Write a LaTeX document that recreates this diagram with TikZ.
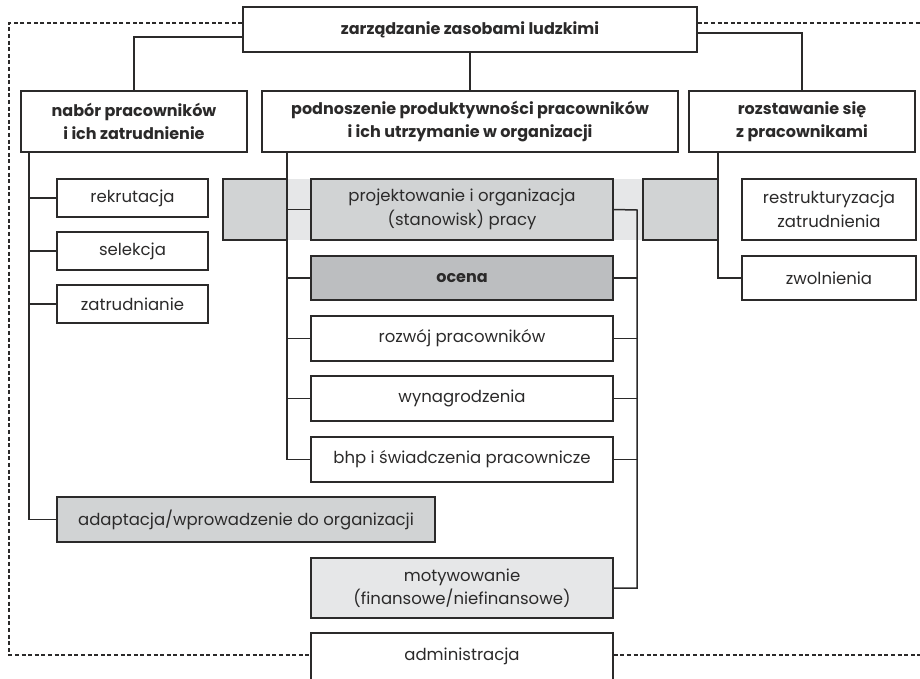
\documentclass[tikz,border=0pt]{standalone}
\usepackage{fontspec}
\setmainfont{Poppins}
\usetikzlibrary{calc}
\definecolor{ink}{HTML}{2B2A2A}
\definecolor{band}{HTML}{E6E7E8}
\definecolor{midgray}{HTML}{D1D3D4}
\definecolor{darkgray}{HTML}{BCBEC0}
\tikzset{
  box/.style={draw=ink, line width=1.5pt, fill=white, inner sep=0pt, align=center,
    text=ink, font=\fontsize{16.5}{23.5}\selectfont},
  headbox/.style={box, font=\fontsize{16}{23.5}\selectfont\bfseries},
  link/.style={draw=ink, line width=1.5pt},
  frame/.style={draw=ink, line width=1.5pt, dash pattern=on 4pt off 2.6pt},
}
\begin{document}
\begin{tikzpicture}[x=1pt,y=-1pt]
\useasboundingbox (0,0) rectangle (920,678);
\clip (0,0) rectangle (920,678);

% highlighted band behind the job design row
\fill[band] (223,179) rectangle (718,240);
\node[box, fill=midgray, minimum width=64pt, minimum height=61pt] (lg) at (255,209.5) {};
\node[box, fill=midgray, minimum width=75pt, minimum height=61pt] (rg) at (680.5,209.5) {};

% top level
\node[headbox, minimum width=454pt, minimum height=45pt] (top) at (470,29.5) {zarządzanie zasobami ludzkimi};

% second level
\node[headbox, minimum width=226pt, minimum height=61pt] (nabor) at (134,121.5) {nabór pracowników\\i ich zatrudnienie};
\node[headbox, minimum width=416pt, minimum height=61pt] (podn) at (470,121.5) {podnoszenie produktywności pracowników\\i ich utrzymanie w organizacji};
\node[headbox, minimum width=226pt, minimum height=61pt] (rozst) at (802,121.5) {rozstawanie się\\z pracownikami};

% recruitment branch
\node[box, minimum width=151pt, minimum height=38pt] (rekr) at (132.5,198) {rekrutacja};
\node[box, minimum width=151pt, minimum height=38pt] (sel) at (132.5,251) {selekcja};
\node[box, minimum width=151pt, minimum height=38pt] (zatr) at (132.5,304) {zatrudnianie};
\node[box, fill=midgray, minimum width=378pt, minimum height=45pt] (adapt) at (246,519.5) {adaptacja/wprowadzenie do organizacji};

% productivity branch
\node[box, fill=midgray, minimum width=302pt, minimum height=61pt] (proj) at (462,209.5) {projektowanie i organizacja\\(stanowisk) pracy};
\node[box, fill=darkgray, minimum width=302pt, minimum height=44pt, font=\fontsize{16}{23.5}\selectfont\bfseries] (ocena) at (462,278) {ocena};
\node[box, minimum width=302pt, minimum height=45pt] (rozw) at (462,338.5) {rozwój pracowników};
\node[box, minimum width=302pt, minimum height=45pt] (wyn) at (462,398.5) {wynagrodzenia};
\node[box, minimum width=302pt, minimum height=45pt] (bhp) at (462,459.5) {bhp i świadczenia pracownicze};
\node[box, fill=band, minimum width=302pt, minimum height=60pt] (mot) at (462,588) {motywowanie\\(finansowe/niefinansowe)};
\node[box, minimum width=302pt, minimum height=47pt] (adm) at (462,656.5) {administracja};

% separation branch
\node[box, minimum width=174pt, minimum height=61pt] (restr) at (829,209.5) {restrukturyzacja\\zatrudnienia};
\node[box, minimum width=174pt, minimum height=44pt] (zwol) at (829,278) {zwolnienia};

% trunk anchors
\coordinate (lt) at (29,152);
\coordinate (mt) at (287,152);
\coordinate (rt) at (637,210);
\coordinate (st) at (718,152);

% connectors from the top box
\draw[link] ($(top.west)+(0,7.5)$) -| (nabor.north);
\draw[link] (top.south) -- (podn.north);
\draw[link] ($(top.east)+(0,3.5)$) -| (rozst.north);

% recruitment trunk
\draw[link] (lt) |- (adapt.west);
\draw[link] (rekr.west) -- (rekr.west -| lt);
\draw[link] (sel.west) -- (sel.west -| lt);
\draw[link] (zatr.west) -- (zatr.west -| lt);

% productivity trunk (left)
\draw[link] (mt) |- (bhp.west);
\draw[link] (proj.west) -- (proj.west -| mt);
\draw[link] (ocena.west) -- (ocena.west -| mt);
\draw[link] (rozw.west) -- (rozw.west -| mt);
\draw[link] (wyn.west) -- (wyn.west -| mt);

% productivity trunk (right)
\draw[link] (proj.east) -- (rt) |- (mot.east);
\draw[link] (ocena.east) -- (ocena.east -| rt);
\draw[link] (rozw.east) -- (rozw.east -| rt);
\draw[link] (wyn.east) -- (wyn.east -| rt);
\draw[link] (bhp.east) -- (bhp.east -| rt);

% separation trunk
\draw[link] (st) |- (zwol.west);
\draw[link] ($(restr.west)+(0,7.5)$) -- ($(restr.west)+(0,7.5)$ -| st);

% dashed frame linking the top box and administration
\coordinate (fl) at (9,23);
\coordinate (fr) at (920,23);
\coordinate (fb) at (9,655);
\coordinate (fbr) at (920,655);
\draw[frame] ($(top.west)+(0,-6.5)$) -- (fl) -- (fb) -- (fb -| adm.west);
\draw[frame] ($(top.east)+(0,-6.5)$) -- (fr);
\draw[frame] (fbr -| adm.east) -- (fbr);
\end{tikzpicture}
\end{document}
